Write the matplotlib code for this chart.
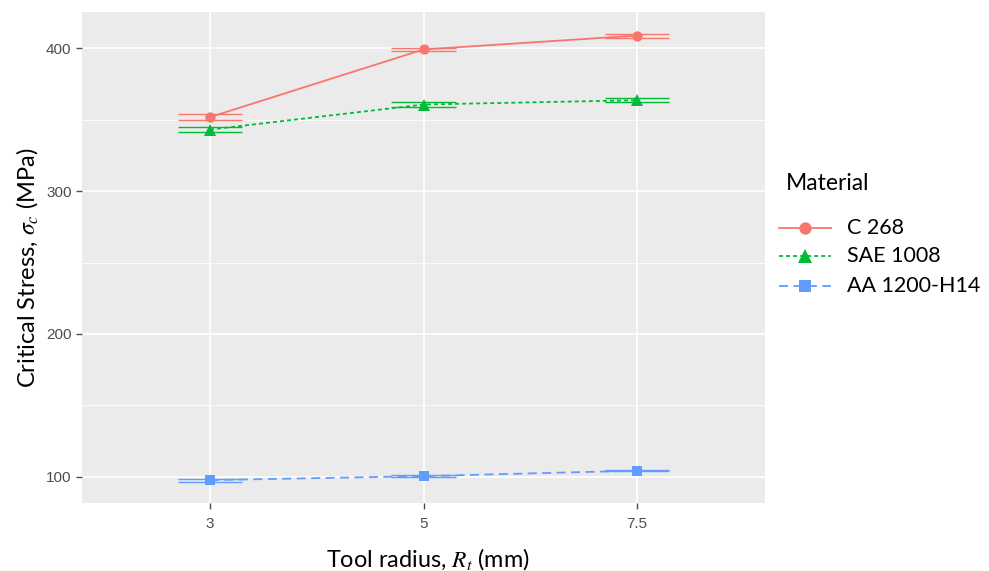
import matplotlib
matplotlib.use('Agg')
import matplotlib.pyplot as plt
import numpy as np
from matplotlib.lines import Line2D

radius_labels = ['3', '5', '7.5']
materials = ['C 268', 'SAE 1008', 'AA 1200-H14']
c268 = [351.7, 399.0, 408.7]
c268_err = [2.0, 1.0, 1.4]
sae1008 = [343.0, 360.5, 363.5]
sae1008_err = [1.8, 2.0, 1.4]
aa1200 = [97.8, 100.6, 104.4]
aa1200_err = [1.0, 0.8, 0.4]

colors = ['#F8766D', '#00BA38', '#619CFF']
markers = ['o', '^', 's']
msizes = [7.4, 8.0, 7.0]
linestyles = ['-', (0, (2.2, 1.7)), (0, (5, 3))]

W, H = 989, 571
plt.rcParams['mathtext.fontset'] = 'stix'
fig = plt.figure(figsize=(W / 100, H / 100), dpi=100)
ax = fig.add_axes([82 / W, 1 - 503 / H, (765 - 82) / W, (503 - 12) / H])
ax.set_facecolor('#EBEBEB')
for s in ax.spines.values():
    s.set_visible(False)

x = np.arange(len(radius_labels))
series = [(c268, c268_err), (sae1008, sae1008_err), (aa1200, aa1200_err)]
for (vals, errs), col, mk, ms, ls in zip(series, colors, markers, msizes, linestyles):
    vals = np.array(vals); errs = np.array(errs)
    for xi, v, e in zip(x, vals, errs):
        ax.hlines([v - e, v + e], xi - 0.15, xi + 0.15, color=col, lw=1.0, zorder=3)
        ax.vlines(xi, v - e, v + e, color=col, lw=1.0, zorder=3)
    ax.plot(x, vals, color=col, lw=1.3, linestyle=ls, zorder=4)
    ax.plot(x, vals, color=col, marker=mk, linestyle='none', markersize=ms,
            markeredgewidth=0, zorder=5)

ax.set_xlim(-0.6, 2.6)
ax.set_ylim(81.8, 425.2)
ax.set_xticks(x)
ax.set_xticklabels(radius_labels)
ax.set_yticks([100, 200, 300, 400])
ax.set_yticks([150, 250, 350], minor=True)
ax.grid(which='major', color='white', lw=1.2)
ax.grid(which='minor', axis='y', color='white', lw=0.6)
ax.set_axisbelow(True)
ax.tick_params(axis='both', which='major', length=4, color='#4D4D4D', width=1,
               labelsize=11, labelcolor='#4D4D4D')
ax.tick_params(axis='x', which='major', pad=6)
ax.tick_params(axis='y', which='major', pad=3.5)
ax.tick_params(axis='y', which='minor', length=0)
for lab in ax.get_xticklabels() + ax.get_yticklabels():
    lab.set_family('Liberation Sans')

# axis titles
fig.text(428 / W, 1 - 559 / H, r'Tool radius, $R_t$ (mm)', fontsize=16.9, family='Lato',
         ha='center', va='center')
fig.text(27 / W, 1 - 268 / H, r'Critical Stress, $\sigma_c$ (MPa)', fontsize=17, family='Lato',
         ha='center', va='center', rotation=90)

# legend
fig.text(786 / W, 1 - 183 / H, 'Material', fontsize=16.5, family='Lato', ha='left', va='center')
leg_y = [228, 256, 286]
for name, col, mk, ms, ls, yy in zip(materials, colors, markers, msizes, linestyles, leg_y):
    fy = 1 - yy / H
    fig.add_artist(Line2D([779 / W, 831 / W], [fy, fy], color=col, lw=1.3, linestyle=ls,
                          transform=fig.transFigure))
    fig.add_artist(Line2D([805 / W], [fy], color=col, marker=mk, markersize=ms * 1.2,
                          markeredgewidth=0, linestyle='none', transform=fig.transFigure))
    fig.text(847 / W, fy, name, fontsize=15.5, family='Lato', ha='left', va='center')

fig.savefig('out.png', dpi=100)
